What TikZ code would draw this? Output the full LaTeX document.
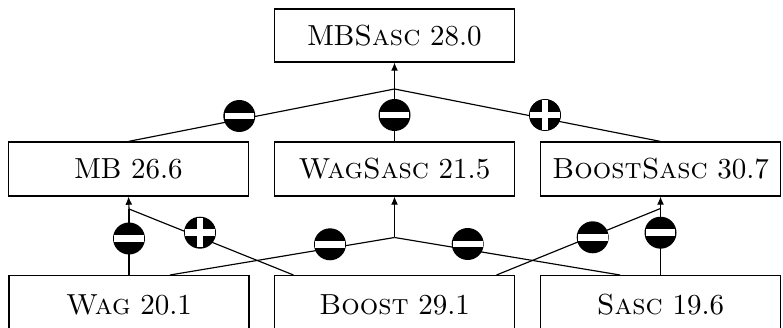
\documentclass[tikz,border=0pt]{standalone}
\usetikzlibrary{arrows.meta,calc}
\newdimen\pxu \pxu=0.3448pt
\begin{document}
\begin{tikzpicture}[x=\pxu,y=-\pxu,
  box/.style={draw, line width=0.4pt, minimum width=82.75pt, minimum height=18.62pt, inner sep=0pt},
  lowbox/.style={box, minimum height=20pt},
  conn/.style={line width=0.4pt},
  arr/.style={conn,-{Latex[length=2.8pt,width=2.4pt]}},
  sym/.style={circle, fill=black, minimum size=11.03pt, inner sep=0pt},
  symminus/.style={sym, path picture={\fill[white] ([shift={(-5.1pt,-1.15pt)}]path picture bounding box.center) rectangle ([shift={(5.1pt,1.15pt)}]path picture bounding box.center);}},
  symplus/.style={sym, path picture={\fill[white] ([shift={(-5.1pt,-1.15pt)}]path picture bounding box.center) rectangle ([shift={(5.1pt,1.15pt)}]path picture bounding box.center);
     \fill[white] ([shift={(-1.15pt,-5.1pt)}]path picture bounding box.center) rectangle ([shift={(1.15pt,5.1pt)}]path picture bounding box.center);}}]
\useasboundingbox (0,0) rectangle (783,328);
% boxes
\node[box, minimum height=18.27pt] (top) at (394.5,35.5) {MB\textsc{Sasc} 28.0};
\node[box] (mb) at (128.5,169) {MB 26.6};
\node[box] (ws) at (394.5,169) {\textsc{WagSasc} 21.5};
\node[box] (bs) at (660.5,169) {\textsc{BoostSasc} 30.7};
\node[lowbox, anchor=north] (wag) at (129,275) {\textsc{Wag} 20.1};
\node[lowbox, anchor=north] (boost) at (394.5,275) {\textsc{Boost} 29.1};
\node[lowbox, anchor=north] (sasc) at (660.5,275) {\textsc{Sasc} 19.6};
% junctions
\coordinate (jt) at (394.5,89);
\coordinate (jmb) at (129,209);
\coordinate (jws) at (394.5,237.5);
\coordinate (jbs) at (660.5,208.5);
% connectors top layer
\draw[conn] (mb.north) -- (jt);
\draw[conn] (ws.north) -- (jt);
\draw[conn] (bs.north) -- (jt);
\draw[arr] (jt) -- (top.south);
% connectors bottom layer
\draw[conn] (wag.north) -- (jmb);
\draw[conn] ($(boost.north)+(-101,0)$) -- (jmb);
\draw[arr] (jmb) -- (mb.south);
\draw[conn] ($(wag.north)+(41,0)$) -- (jws);
\draw[conn] ($(sasc.north)+(-40.5,0)$) -- (jws);
\draw[arr] (jws) -- (ws.south);
\draw[conn] ($(boost.north)+(102,0)$) -- (jbs);
\draw[conn] (sasc.north) -- (jbs);
\draw[arr] (jbs) -- (bs.south);
% signs
\node[symminus] (s1) at (239.3,116) {};
\node[symminus] (s2) at (394.5,115) {};
\node[symplus] (s3) at (545,115) {};
\node[symminus] (s4) at (129,238.5) {};
\node[symplus] (s5) at (200,232.7) {};
\node[symminus] (s6) at (330,244.3) {};
\node[symminus] (s7) at (467.7,244) {};
\node[symminus] (s8) at (592.7,237.3) {};
\node[symminus] (s9) at (660.5,232.7) {};
\end{tikzpicture}
\end{document}
